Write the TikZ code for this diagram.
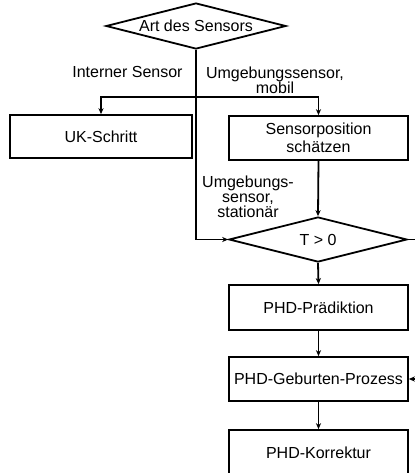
\documentclass[tikz,border=0pt]{standalone}
\usepackage{fontspec}
\setmainfont{Liberation Sans}
\usetikzlibrary{shapes.geometric, arrows.meta}

\tikzset{
  box/.style={draw, line width=0.9pt, rectangle, minimum width=89.5pt,
    minimum height=22pt, inner sep=0pt, align=center,
    font=\fontsize{8}{8.8}\selectfont},
  decision/.style={draw, line width=0.9pt, diamond, aspect=3.9,
    minimum width=89pt, minimum height=22.5pt, inner sep=0pt,
    font=\fontsize{8}{9}\selectfont},
  flow/.style={line width=0.9pt, -{Stealth[length=3pt, width=2.6pt]}},
  lbl/.style={align=center, inner sep=0pt, font=\fontsize{8}{7.6}\selectfont}
}

\begin{document}
\begin{tikzpicture}[x=0.5pt, y=-0.5pt]
  \clip (0,0) rectangle (415,473);

  % decisions
  \node[decision, minimum width=90pt, minimum height=23pt] (art) at (196,26) {Art des Sensors};
  \node[decision] (tgt) at (318,239.5) {T > 0};

  % steps
  \node[box, minimum width=91pt, minimum height=21.5pt] (uk) at (101,136.5) {UK-Schritt};
  \node[box] (sensor) at (318.5,138) {Sensorposition\\schätzen};
  \node[box, minimum height=22.5pt] (praed) at (318.5,307.5) {PHD-Prädiktion};
  \node[box] (geb) at (318.5,379) {PHD-Geburten-Prozess};
  \node[box, minimum height=22.5pt] (korr) at (318.5,452.5) {PHD-Korrektur};

  % branch labels
  \node[lbl, anchor=east] (intern) at (183,72) {Interner Sensor};
  \node[lbl] (mobil) at (275,80) {Umgebungssensor,\\mobil};
  \node[lbl] (stat) at (248,197) {Umgebungs-\\sensor,\\stationär};

  \coordinate (branch) at (196,97);
  \coordinate (rout) at (420,239.5);
  \coordinate (rin) at (420,379);

  % connectors
  \draw[flow] (art.south) |- (tgt.west);
  \draw[flow] (branch) -| (uk.north);
  \draw[flow] (branch) -| (sensor.north);
  \draw[flow] (sensor.south) -- (tgt.north);
  \draw[flow] (tgt.south) -- (praed.north);
  \draw[flow] (praed.south) -- (geb.north);
  \draw[flow] (geb.south) -- (korr.north);
  \draw[line width=0.9pt] (tgt.east) -- (rout);
  \draw[flow] (rin) -- (geb.east);
\end{tikzpicture}
\end{document}
